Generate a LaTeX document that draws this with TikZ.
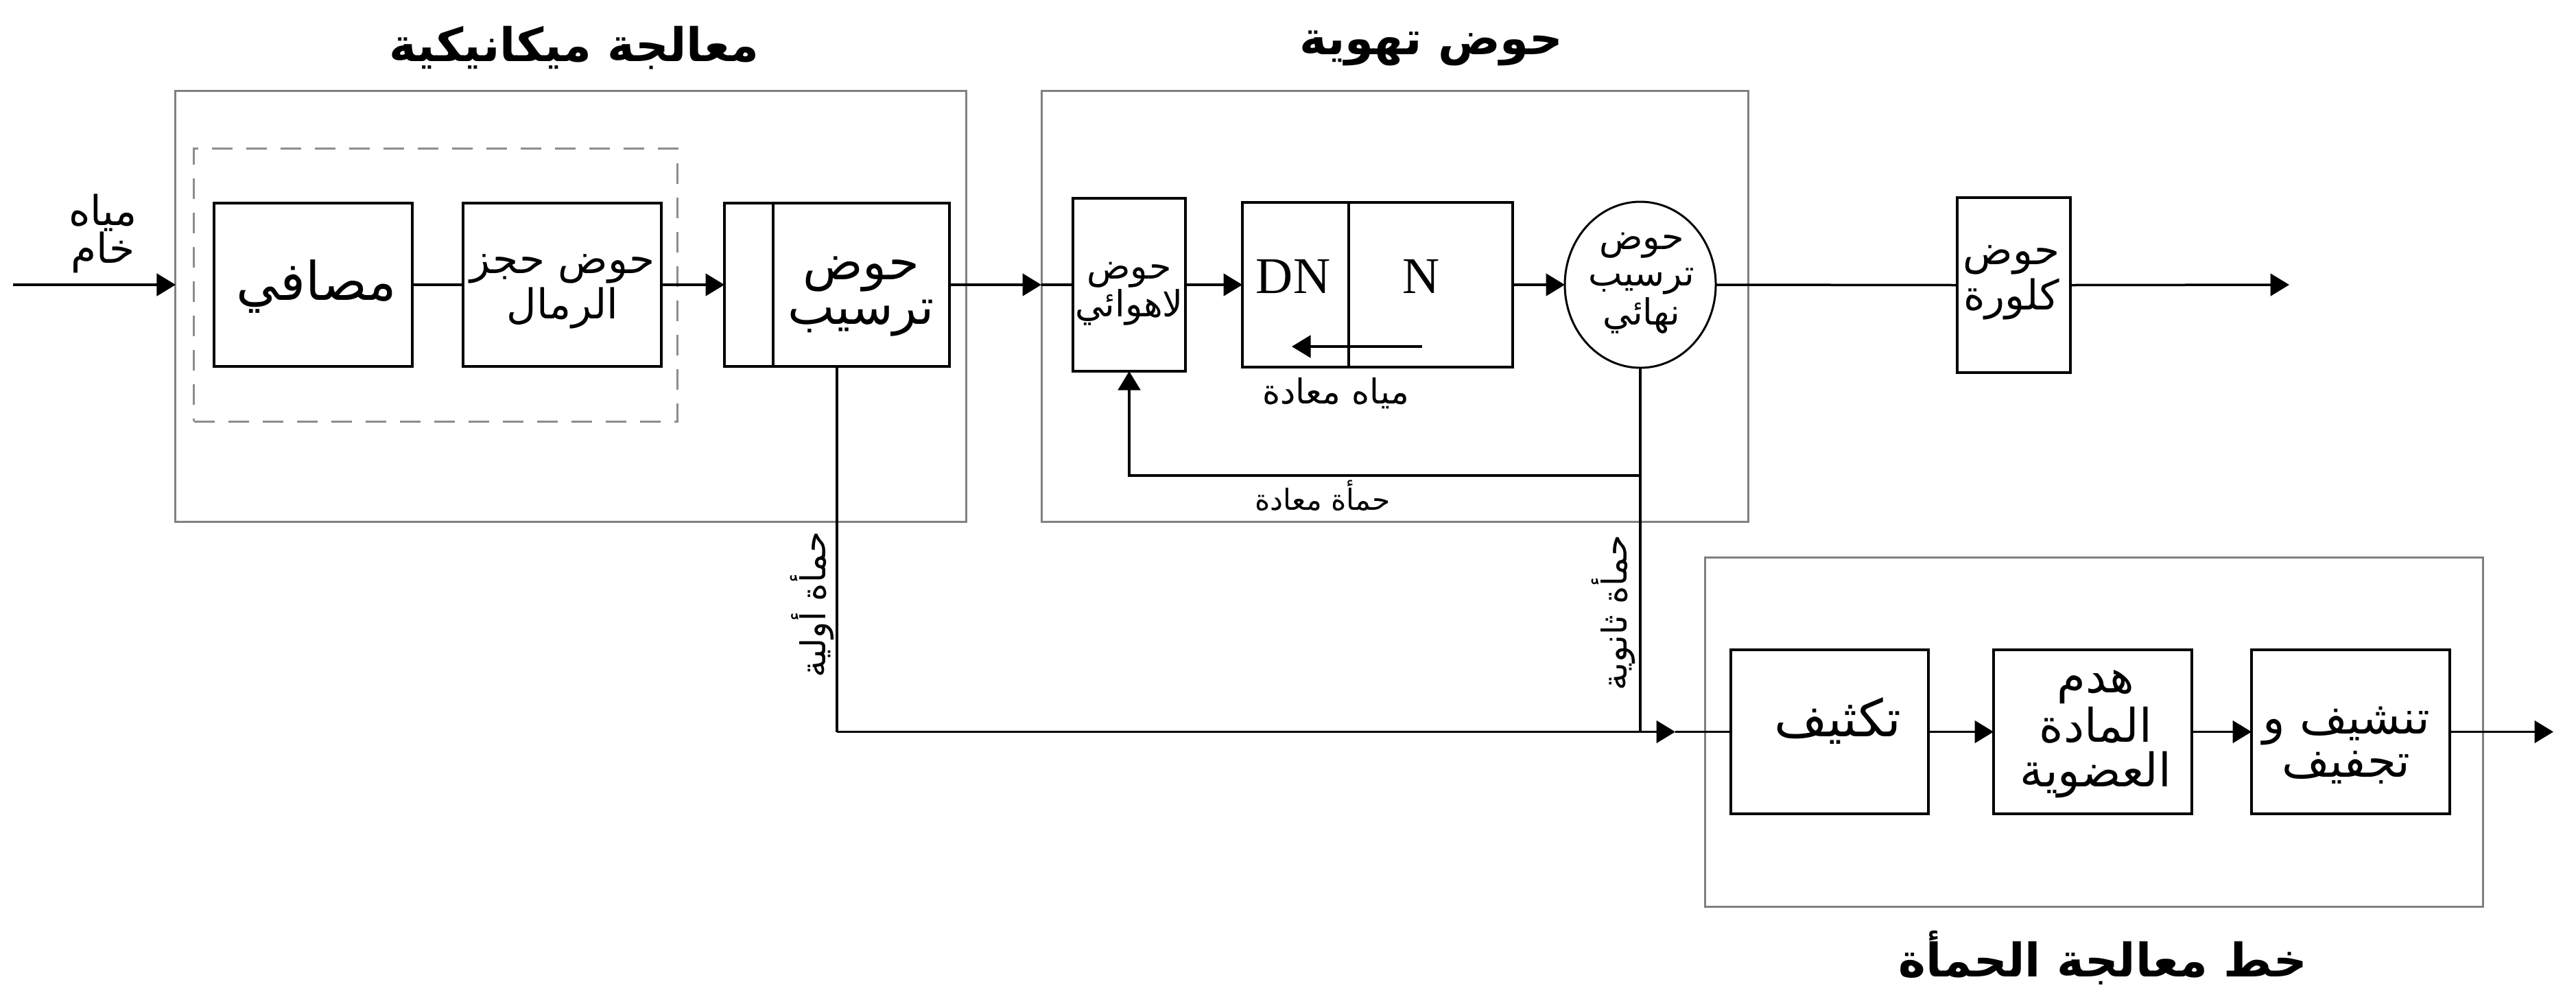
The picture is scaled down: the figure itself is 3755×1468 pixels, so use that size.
\documentclass[tikz,border=0pt]{standalone}
\usepackage{fontspec}
\usetikzlibrary{arrows.meta,shapes.geometric}
\TeXXeTstate=1
\newfontfamily\ar[Script=Arabic]{DejaVu Sans}
\newfontfamily\lser{Liberation Serif}
\newcommand\rl[1]{\beginR#1\endR}
\newcommand\fsz[2]{\fontsize{#1}{#2}\selectfont}
\begin{document}
\begin{tikzpicture}[x=0.2pt,y=-0.2pt,
  outerbox/.style={draw=black!50,line width=0.6pt,inner sep=0pt,outer sep=0pt},
  dashbox/.style={draw=black!45,line width=0.6pt,dash pattern=on 6pt off 4pt,inner sep=0pt,outer sep=0pt},
  unit/.style={draw=black,line width=0.7pt,inner sep=0pt,outer sep=0pt},
  flow/.style={line width=0.7pt},
  arr/.style={flow,-{Triangle[length=5.5pt,width=6.5pt]}},
  txt/.style={inner sep=0pt,align=center},
  title/.style={txt,font={\ar\bfseries\fsz{13.5}{15}}},
]
\useasboundingbox (0,0) rectangle (3755,1468);

% ---------- mechanical treatment ----------
\node[outerbox,minimum width=230.4pt,minimum height=125.6pt] (mech) at (832,446) {};
\node[dashbox,minimum width=140.8pt,minimum height=79.6pt] (grp) at (635,415) {};
\node[unit,minimum width=57.8pt,minimum height=47.6pt] (masafi) at (456.5,415) {};
\node[unit,minimum width=57.8pt,minimum height=47.6pt] (hajz) at (819.5,415) {};
\node[unit,minimum width=65.6pt,minimum height=47.6pt] (settle) at (1220,415) {};
\draw[line width=0.7pt] ([xshift=14.2pt]settle.north west) -- ([xshift=14.2pt]settle.south west);

\node[title] (t1) at (837,70) {\rl{معالجة ميكانيكية}};
\node[txt,font={\ar\fsz{12}{11}}] (raw) at (150,340) {\rl{مياه}\\\rl{خام}};
\node[txt,font={\ar\fsz{15.5}{15}}] (l1) at (461,418) {\rl{مصافي}};
\node[txt,font={\ar\fsz{12}{12}}] (l2) at (820,425) {\rl{حوض حجز}\\\rl{الرمال}};
\node[txt,font={\ar\fsz{14.5}{13}}] (l3) at (1255,432) {\rl{حوض}\\\rl{ترسيب}};

% ---------- aeration ----------
\node[outerbox,minimum width=206pt,minimum height=125.6pt] (aer) at (2033,446) {};
\node[unit,minimum width=32.8pt,minimum height=50.4pt] (anaer) at (1646,415) {};
\node[unit,minimum width=78.8pt,minimum height=48pt] (dnn) at (2008,415) {};
\draw[line width=0.7pt] ([xshift=31pt]dnn.north west) -- ([xshift=31pt]dnn.south west);
\node[ellipse,draw=black,line width=0.6pt,inner sep=0pt,outer sep=0pt,minimum width=44pt,minimum height=48.4pt] (fin) at (2391,415) {};
\node[unit,minimum width=33pt,minimum height=51pt] (chlor) at (2935.5,415.5) {};

\node[title] (t2) at (2086,70) {\rl{حوض تهوية}};
\node[txt,font={\ar\fsz{10.5}{11}}] (l4) at (1646,428) {\rl{حوض}\\\rl{لاهوائي}};
\node[txt,font={\lser\fsz{15}{15}}] (dn) at (1885,403) {DN};
\node[txt,font={\lser\fsz{15}{15}}] (nn) at (2072,403) {N};
\node[txt,font={\ar\fsz{10}{10}}] (l5) at (1947,573) {\rl{مياه معادة}};
\node[txt,font={\ar\fsz{10.5}{10.5}}] (l6) at (2393,413) {\rl{حوض}\\\rl{ترسيب}\\\rl{نهائي}};
\node[txt,font={\ar\fsz{8.5}{9}}] (l7) at (1928,722) {\rl{حمأة معادة}};
\node[txt,font={\ar\fsz{12}{10}}] (l8) at (2932,412) {\rl{حوض}\\\rl{كلورة}};

% ---------- sludge line ----------
\node[outerbox,minimum width=226.8pt,minimum height=101.8pt] (sl) at (3052,1066.5) {};
\node[unit,minimum width=57.6pt,minimum height=47.8pt] (thick) at (2667,1066.5) {};
\node[unit,minimum width=57.8pt,minimum height=47.8pt] (hadm) at (3050.5,1066.5) {};
\node[unit,minimum width=57.8pt,minimum height=47.8pt] (tansh) at (3426.5,1066.5) {};

\node[title] (t3) at (3065,1396) {\rl{خط معالجة الحمأة}};
\node[txt,font={\ar\fsz{15}{15}}] (l9) at (2679,1050) {\rl{تكثيف}};
\node[txt,font={\ar\fsz{13.5}{13}}] (l10) at (3055,1070) {\rl{هدم}\\\rl{المادة}\\\rl{العضوية}};
\node[txt,font={\ar\fsz{13.5}{12.5}}] (l11) at (3420,1086) {\rl{تنشيف و}\\\rl{تجفيف}};
\node[txt,font={\ar\fsz{10}{10}},rotate=90] (l12) at (1184,881) {\rl{حمأة أولية}};
\node[txt,font={\ar\fsz{10}{10}},rotate=90] (l13) at (2352,893) {\rl{حمأة ثانوية}};

% ---------- connectors ----------
\coordinate (in) at (19,415);
\coordinate (out1) at (3337,415);
\coordinate (out2) at (3722,1066.5);
\coordinate (fb) at (2391,693);
\coordinate (j2) at (2391,1066.5);
\coordinate (tip) at (2442,1066.5);
\coordinate (ia) at (2073,505);
\coordinate (ib) at (1883,505);

\draw[arr] (in) -- (in -| mech.west);
\draw[flow] (masafi.east) -- (hajz.west);
\draw[arr] (hajz.east) -- (settle.west);
\draw[arr] (settle.east) -- (settle.east -| aer.west);
\draw[flow] (settle.east -| aer.west) -- (anaer.west);
\draw[arr] (anaer.east) -- (dnn.west);
\draw[arr] (dnn.east) -- (fin.west);
\draw[flow] (fin.east) -- (chlor.west);
\draw[arr] (chlor.east) -- (out1);
\draw[arr] (ia) -- (ib);
\draw[arr] (fin.south) -- (fb) -| (anaer.south);
\draw[flow] (fb) -- (j2);
\draw[flow] (settle.south) -- (settle.south |- thick.west);
\draw[arr] (settle.south |- thick.west) -- (tip);
\draw[flow] (tip) -- (thick.west);
\draw[arr] (thick.east) -- (hadm.west);
\draw[arr] (hadm.east) -- (tansh.west);
\draw[arr] (tansh.east) -- (out2);
\end{tikzpicture}
\end{document}
